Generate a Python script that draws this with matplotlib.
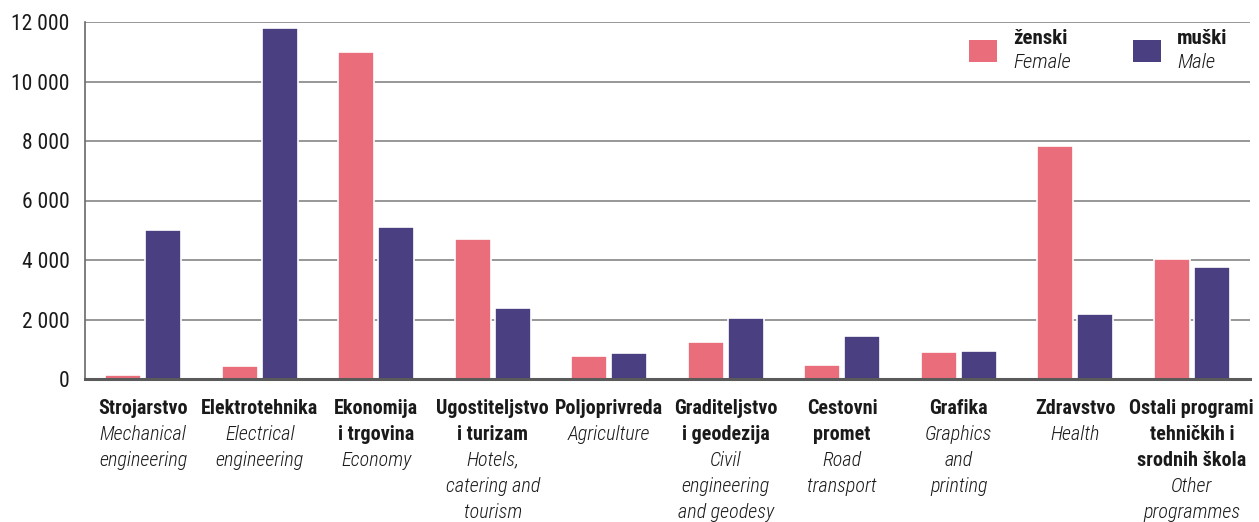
import matplotlib
matplotlib.use("Agg")
import matplotlib.pyplot as plt
from matplotlib.patches import Rectangle
from matplotlib.ticker import FuncFormatter
import numpy as np

categories_hr = [
    ["Strojarstvo"],
    ["Elektrotehnika"],
    ["Ekonomija", "i trgovina"],
    ["Ugostiteljstvo", "i turizam"],
    ["Poljoprivreda"],
    ["Graditeljstvo", "i geodezija"],
    ["Cestovni", "promet"],
    ["Grafika"],
    ["Zdravstvo"],
    ["Ostali programi", "tehničkih i", "srodnih škola"],
]
categories_en = [
    ["Mechanical", "engineering"],
    ["Electrical", "engineering"],
    ["Economy"],
    ["Hotels,", "catering and", "tourism"],
    ["Agriculture"],
    ["Civil", "engineering", "and geodesy"],
    ["Road", "transport"],
    ["Graphics", "and", "printing"],
    ["Health"],
    ["Other", "programmes"],
]
female = [150, 450, 11000, 4700, 780, 1250, 470, 920, 7830, 4050]
male = [5000, 11800, 5100, 2400, 870, 2050, 1450, 950, 2200, 3780]
yticks = [0, 2000, 4000, 6000, 8000, 10000, 12000]

C_F = "#E96D7A"
C_M = "#4A3F80"
FONT = ["Roboto Condensed", "DejaVu Sans"]
plt.rcParams["font.family"] = FONT

W, H = 1259, 522
fig = plt.figure(figsize=(W / 100, H / 100), dpi=100)
ax = fig.add_axes([85 / W, 1 - 379 / H, (1250 - 85) / W, (379 - 22) / H])

x = np.arange(len(female))
bw = 0.31
off = 0.172
ax.bar(x - off, female, bw, color=C_F, edgecolor="white", linewidth=1.2, zorder=3)
ax.bar(x + off, male, bw, color=C_M, edgecolor="white", linewidth=1.2, zorder=3)

ax.set_xlim(-0.5, len(female) - 0.5)
ax.set_ylim(0, 12000)
ax.set_yticks(yticks)
ax.yaxis.set_major_formatter(FuncFormatter(lambda v, p: f"{int(v):,}".replace(",", " ")))
ax.tick_params(axis="y", length=0, pad=11, labelsize=15.5, labelcolor="#1a1a1a")
ax.tick_params(axis="x", length=0, labelbottom=False)
ax.grid(axis="y", color="#7a7a7a", linewidth=1.1, zorder=0)
ax.set_axisbelow(True)
for s in ["top", "right"]:
    ax.spines[s].set_visible(False)
ax.spines["left"].set_color("#6a6a6a")
ax.spines["left"].set_linewidth(1.2)
ax.spines["bottom"].set_color("#5a5a5a")
ax.spines["bottom"].set_linewidth(2.2)
ax.spines["bottom"].set_zorder(4)

# category labels
line_h = 26
for i, (hr, en) in enumerate(zip(categories_hr, categories_en)):
    k = 0
    for t in hr:
        ax.annotate(t, xy=(i, 0), xycoords=("data", "axes fraction"),
                    xytext=(0, -29 - line_h * k), textcoords="offset pixels",
                    ha="center", va="center", fontsize=14.5, fontweight="bold",
                    color="#1a1a1a", family=FONT)
        k += 1
    for t in en:
        ax.annotate(t, xy=(i, 0), xycoords=("data", "axes fraction"),
                    xytext=(0, -29 - line_h * k), textcoords="offset pixels",
                    ha="center", va="center", fontsize=14.5, fontstyle="italic",
                    fontweight="light", color="#1a1a1a", family=FONT)
        k += 1

# legend
def legend_item(px, color, t1, t2):
    fig.patches.append(Rectangle((px / W, 1 - 62 / H), 28 / W, 22 / H,
                                 transform=fig.transFigure, facecolor=color,
                                 edgecolor="none", zorder=5))
    fig.text((px + 44) / W, 1 - 38 / H, t1, fontsize=15, fontweight="bold",
             va="center", ha="left", color="#1a1a1a", family=FONT)
    fig.text((px + 44) / W, 1 - 62 / H, t2, fontsize=15, fontstyle="italic",
             fontweight="light", va="center", ha="left", color="#1a1a1a", family=FONT)

legend_item(969, C_F, "ženski", "Female")
legend_item(1133, C_M, "muški", "Male")

fig.savefig("out.png", dpi=100)
